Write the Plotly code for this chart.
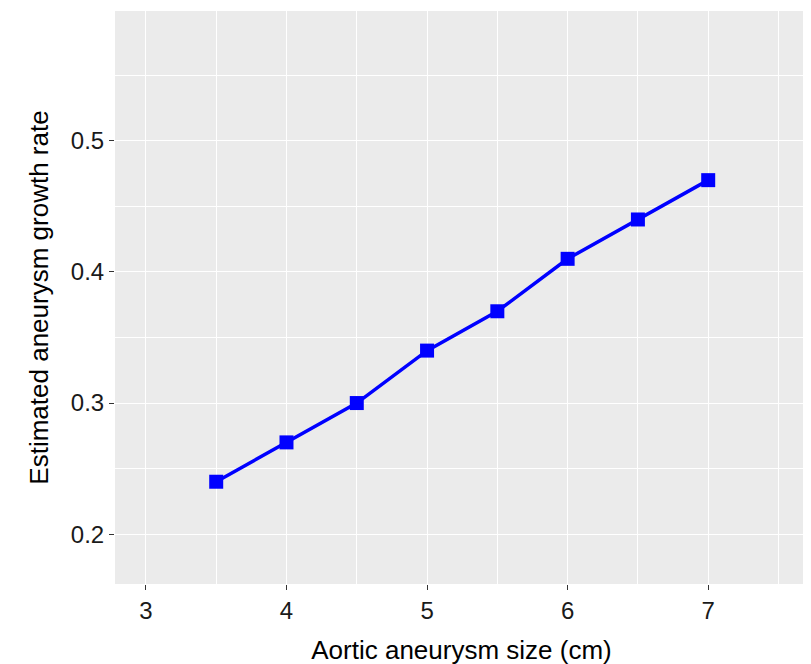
import plotly.graph_objects as go

# aneurysm size (cm) vs estimated growth rate
size_cm = [3.5, 4.0, 4.5, 5.0, 5.5, 6.0, 6.5, 7.0]
growth = [0.24, 0.27, 0.30, 0.34, 0.37, 0.41, 0.44, 0.47]

fig = go.Figure()
fig.add_trace(go.Scatter(
    x=size_cm, y=growth, mode="lines+markers",
    line=dict(color="#0000ff", width=3.5),
    marker=dict(symbol="square", size=14, color="#0000ff"),
))

axis_common = dict(
    showgrid=True, gridcolor="white", gridwidth=1.3,
    zeroline=False, showline=False, automargin=False,
    ticks="outside", ticklen=5, tickcolor="#333333",
    tickfont=dict(size=24, color="#1a1a1a"),
)

fig.update_layout(
    width=811, height=664,
    margin=dict(l=107, r=11, t=3, b=88),
    plot_bgcolor="#ebebeb", paper_bgcolor="white",
    font=dict(family="Liberation Sans, Arial, sans-serif"),
    showlegend=False,
    xaxis=dict(axis_common, range=[2.78, 7.71], tickvals=[3, 4, 5, 6, 7],
               minor=dict(showgrid=True, gridcolor="white", gridwidth=0.6,
                          tickvals=[3.5, 4.5, 5.5, 6.5, 7.5]),
               title=dict(text="Aortic aneurysm size (cm)", standoff=18,
                          font=dict(size=26, color="black"))),
    yaxis=dict(axis_common, range=[0.162, 0.599], tickvals=[0.2, 0.3, 0.4, 0.5],
               minor=dict(showgrid=True, gridcolor="white", gridwidth=0.6,
                          tickvals=[0.25, 0.35, 0.45, 0.55]),
               title=dict(text="Estimated aneurysm growth rate", standoff=14,
                          font=dict(size=26, color="black"))),
)

fig.write_html("out.html")
